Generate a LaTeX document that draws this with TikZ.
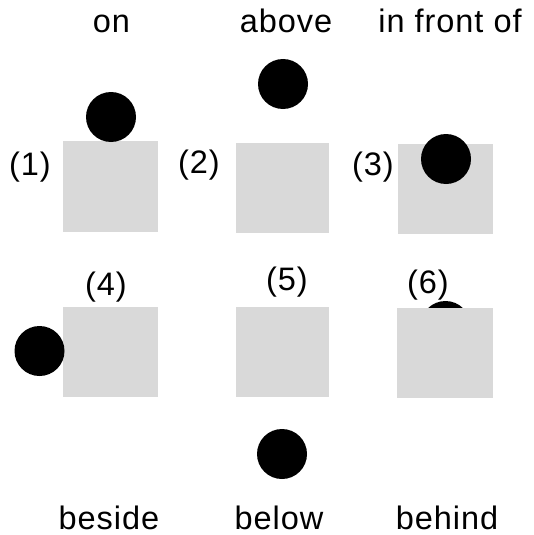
\documentclass[tikz,border=0pt]{standalone}
\usepackage{fontspec}
\setmainfont[LetterSpace=3]{Liberation Sans}
\definecolor{boxgray}{HTML}{D9D9D9}
\begin{document}
\begin{tikzpicture}[x=1pt,y=-1pt,
  box/.style={rectangle,fill=boxgray,draw=none,inner sep=0pt,anchor=north west},
  ball/.style={circle,fill=black,draw=none,inner sep=0pt,minimum size=50pt},
  word/.style={inner sep=0pt,anchor=base,font=\fontsize{32.5}{36}\selectfont},
  num/.style={inner sep=0pt,font=\fontsize{32.5}{36}\selectfont}]
\useasboundingbox[fill=white] (0,0) rectangle (534,535);
% titles
\node[word] (ton) at (111.5,33) {on};
\node[word] (tabove) at (286,33) {above};
\node[word] (tfront) at (450,33) {in front of};
\node[word] (tbeside) at (109,529.5) {beside};
\node[word] (tbelow) at (279,529.5) {below};
\node[word] (tbehind) at (447,529.5) {behind};
% numbers
\node[num] (n1) at (30,167) {(1)};
\node[num] (n2) at (199,165) {(2)};
\node[num] (n3) at (373,167) {(3)};
\node[num] (n4) at (106,287) {(4)};
\node[num] (n5) at (287,282) {(5)};
\node[num] (n6) at (428,285) {(6)};
% (1) on
\node[box,minimum width=95pt,minimum height=91pt] (b1) at (63,141) {};
\node[ball] (c1) at (111,117) {};
% (2) above
\node[box,minimum width=93pt,minimum height=90pt] (b2) at (236,143) {};
\node[ball] (c2) at (283,84) {};
% (3) in front of
\node[box,minimum width=95pt,minimum height=90pt] (b3) at (398,144) {};
\node[ball] (c3) at (446,159) {};
% (4) beside
\node[box,minimum width=95pt,minimum height=90pt] (b4) at (63,307) {};
\node[ball] (c4) at (39.5,351) {};
% (5) below
\node[box,minimum width=93pt,minimum height=90pt] (b5) at (236,307) {};
\node[ball] (c5) at (282,454) {};
% (6) behind
\node[ball] (c6) at (445.5,326) {};
\node[box,minimum width=96pt,minimum height=90pt] (b6) at (397,308) {};
\end{tikzpicture}
\end{document}
